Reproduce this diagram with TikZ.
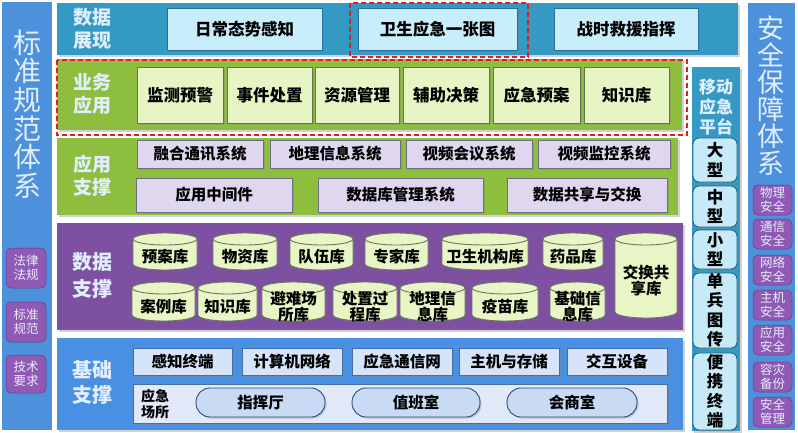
\documentclass[tikz,border=0pt]{standalone}
\usepackage{fontspec}
\setmainfont{Noto Sans CJK SC}
\usetikzlibrary{shadows}
\definecolor{sideblue}{RGB}{77,145,220}
\definecolor{cteal}{RGB}{52,154,196}
\definecolor{cgreen}{RGB}{141,190,61}
\definecolor{cpurple}{RGB}{125,80,162}
\definecolor{cbase}{RGB}{74,144,226}
\definecolor{labcol}{RGB}{225,238,255}
\definecolor{lbfill}{RGB}{201,238,251}
\definecolor{lbline}{RGB}{44,110,154}
\definecolor{lgfill}{RGB}{230,245,195}
\definecolor{lgline}{RGB}{100,115,80}
\definecolor{lvfill}{RGB}{223,215,240}
\definecolor{lvline}{RGB}{110,110,130}
\definecolor{cyfill}{RGB}{232,245,196}
\definecolor{cyline}{RGB}{110,115,100}
\definecolor{bbfill}{RGB}{213,228,250}
\definecolor{bbline}{RGB}{70,110,160}
\definecolor{bcfill}{RGB}{226,234,250}
\definecolor{stfill}{RGB}{201,218,245}
\definecolor{stline}{RGB}{42,74,128}
\definecolor{spurple}{RGB}{142,90,180}
\definecolor{mbfill}{RGB}{198,234,248}
\definecolor{mbline}{RGB}{40,100,130}
\definecolor{cred}{RGB}{225,30,30}
\newcommand\mkbox[7]{%
 \node[#1, minimum width={(#5)-(#3)}, minimum height={(#6)-(#4)}] (#2) at ({((#3)+(#5))/2},{((#4)+(#6))/2}) {#7};}
\newcommand\mkcyl[6]{%
 \filldraw[cylbody] ({#2},{(#3)+6}) -- ({#2},{(#5)-6}) arc[start angle=180,end angle=360,x radius={((#4)-(#2))/2*1pt},y radius=6pt] -- ({#4},{(#3)+6}) arc[start angle=0,end angle=180,x radius={((#4)-(#2))/2*1pt},y radius=6pt] -- cycle;
 \draw[cylbody,fill=none] ({#2},{(#3)+6}) arc[start angle=180,end angle=360,x radius={((#4)-(#2))/2*1pt},y radius=6pt];
 \node[cyltext] (#1) at ({((#2)+(#4))/2},{((#3)+(#5))/2+5}) {#6};}
\begin{document}
\begin{tikzpicture}[x=1pt,y=-1pt,
  shadowed/.style={drop shadow={opacity=0.35,shadow xshift=1.5pt,shadow yshift=-1.5pt}},
  boxbase/.style={rectangle,inner sep=0pt,outer sep=0pt,line width=0.9pt,align=center,text=black,shadowed,
     font=\bfseries\fontsize{15.5}{17}\selectfont},
  topbox/.style={boxbase,draw=lbline,fill=lbfill,font=\bfseries\fontsize{16.5}{18}\selectfont},
  appbox/.style={boxbase,draw=lgline,fill=lgfill,font=\bfseries\fontsize{16.5}{18}\selectfont},
  supbox/.style={boxbase,draw=lvline,fill=lvfill},
  basebox/.style={boxbase,draw=bbline,fill=bbfill},
  placebox/.style={rectangle,inner sep=0pt,outer sep=0pt,draw=bbline,line width=0.9pt,fill=bcfill,shadowed},
  stadium/.style={boxbase,draw=stline,fill=stfill,rounded corners=14pt},
  cylbody/.style={draw=cyline,fill=cyfill,line width=0.9pt},
  cyltext/.style={inner sep=0pt,align=center,font=\bfseries\fontsize{15.5}{16.5}\selectfont},
  blabel/.style={inner sep=0pt,align=center,text=labcol,font=\bfseries\fontsize{19}{23}\selectfont},
  sidebox/.style={rectangle,inner sep=0pt,outer sep=0pt,rounded corners=5pt,fill=spurple,draw=spurple!70!black,line width=0.5pt,
     align=center,text=white!92!blue,font=\fontsize{12.5}{14}\selectfont},
  mobbox/.style={boxbase,draw=mbline,fill=mbfill,rounded corners=6pt,font=\bfseries\fontsize{16.5}{19.5}\selectfont},
  bigtext/.style={inner sep=0pt,align=center,text=labcol},
  reddash/.style={draw=cred,line width=1.5pt,dash pattern=on 5pt off 3pt}
]
\useasboundingbox (0,0) rectangle (798,432);
\fill[white] (0,0) rectangle (798,432);

% side columns
\fill[sideblue] (2,2) rectangle (52,430);
\node[bigtext,font=\fontsize{28}{28.6}\selectfont] (leftTitle) at (27,114) {标\\准\\规\\范\\体\\系};
\mkbox{sidebox}{l1}{6}{248}{46}{288}{法律\\法规}
\mkbox{sidebox}{l2}{6}{302}{46}{342}{标准\\规范}
\mkbox{sidebox}{l3}{6}{355}{46}{393}{技术\\要求}

\fill[sideblue] (748,3) rectangle (795,430);
\node[bigtext,font=\fontsize{27}{27}\selectfont] (rightTitle) at (771,96) {安\\全\\保\\障\\体\\系};
\mkbox{sidebox}{r1}{753}{185}{792}{215}{物理\\安全}
\mkbox{sidebox}{r2}{753}{219}{792}{249}{通信\\安全}
\mkbox{sidebox}{r3}{753}{255}{792}{285}{网络\\安全}
\mkbox{sidebox}{r4}{753}{290}{792}{320}{主机\\安全}
\mkbox{sidebox}{r5}{753}{325}{792}{355}{应用\\安全}
\mkbox{sidebox}{r6}{753}{362}{792}{392}{容灾\\备份}
\mkbox{sidebox}{r7}{753}{397}{792}{427}{安全\\管理}

% bands
\fill[cteal,shadowed] (57,3) rectangle (738,55);
\fill[cgreen,shadowed] (57,59) rectangle (682,130);
\fill[cgreen,shadowed] (57,138) rectangle (678,215);
\fill[cpurple,shadowed] (57,223) rectangle (683,330);
\fill[cbase,shadowed] (57,338) rectangle (683,430);
\fill[cteal,shadowed] (692,67) rectangle (740,431);

% band labels
\node[blabel] (lab1) at (92,29) {数据\\展现};
\node[blabel] (lab2) at (92,94) {业务\\应用};
\node[blabel] (lab3) at (92,176) {应用\\支撑};
\node[blabel,font=\bfseries\fontsize{20}{27}\selectfont] (lab4) at (92,275) {数据\\支撑};
\node[blabel,font=\bfseries\fontsize{20}{25}\selectfont] (lab5) at (92,382) {基础\\支撑};

% row 1
\mkbox{topbox}{t1}{167}{8}{322}{50}{日常态势感知}
\mkbox{topbox}{t2}{358}{8}{517}{50}{卫生应急一张图}
\mkbox{topbox}{t3}{554}{8}{698}{50}{战时救援指挥}

% row 2
\mkbox{appbox}{a1}{137}{67}{223}{123}{监测预警}
\mkbox{appbox}{a2}{227}{67}{312}{123}{事件处置}
\mkbox{appbox}{a3}{315}{67}{399}{123}{资源管理}
\mkbox{appbox}{a4}{403}{67}{489}{123}{辅助决策}
\mkbox{appbox}{a5}{493}{67}{580}{123}{应急预案}
\mkbox{appbox}{a6}{584}{67}{669}{123}{知识库}

% row 3
\mkbox{supbox}{s1}{137}{140}{263}{168}{融合通讯系统}
\mkbox{supbox}{s2}{270}{140}{400}{168}{地理信息系统}
\mkbox{supbox}{s3}{406}{140}{532}{168}{视频会议系统}
\mkbox{supbox}{s4}{538}{140}{670}{168}{视频监控系统}
\mkbox{supbox}{s5}{136}{178}{292}{212}{应用中间件}
\mkbox{supbox}{s6}{318}{178}{483}{212}{数据库管理系统}
\mkbox{supbox}{s7}{507}{178}{667}{212}{数据共享与交换}

% row 4 cylinders
\mkcyl{d1}{133}{233}{197}{270}{预案库}
\mkcyl{d2}{213}{233}{277}{270}{物资库}
\mkcyl{d3}{290}{233}{353}{270}{队伍库}
\mkcyl{d4}{365}{233}{428}{270}{专家库}
\mkcyl{d5}{442}{233}{528}{270}{卫生机构库}
\mkcyl{d6}{543}{233}{603}{270}{药品库}
\mkcyl{d7}{615}{233}{677}{318}{交换共\\享库}
\mkcyl{e1}{132}{282}{195}{321}{案例库}
\mkcyl{e2}{198}{282}{257}{321}{知识库}
\mkcyl{e3}{262}{282}{325}{321}{避难场\\所库}
\mkcyl{e4}{333}{282}{397}{321}{处置过\\程库}
\mkcyl{e5}{400}{282}{465}{321}{地理信\\息库}
\mkcyl{e6}{472}{282}{538}{321}{疫苗库}
\mkcyl{e7}{550}{282}{605}{321}{基础信\\息库}

% row 5
\mkbox{basebox}{b1}{133}{348}{232}{375}{感知终端}
\mkbox{basebox}{b2}{242}{348}{342}{375}{计算机网络}
\mkbox{basebox}{b3}{352}{348}{452}{375}{应急通信网}
\mkbox{basebox}{b4}{459}{348}{559}{375}{主机与存储}
\mkbox{basebox}{b5}{567}{348}{667}{375}{交互设备}
\mkbox{placebox}{place}{133}{384}{667}{423}{}
\node[inner sep=0pt,align=center,font=\bfseries\fontsize{14}{16}\selectfont] (placeLab) at (155,404) {应急\\场所};
\mkbox{stadium}{p1}{196}{388}{325}{417}{指挥厅}
\mkbox{stadium}{p2}{352}{388}{480}{417}{值班室}
\mkbox{stadium}{p3}{507}{388}{637}{417}{会商室}

% mobile platform
\node[blabel,font=\bfseries\fontsize{17}{20}\selectfont] (mobLab) at (716,107) {移动\\应急\\平台};
\mkbox{mobbox}{m1}{693}{138}{737}{182}{大\\型}
\mkbox{mobbox}{m2}{693}{186}{737}{227}{中\\型}
\mkbox{mobbox}{m3}{693}{230}{737}{269}{小\\型}
\mkbox{mobbox}{m4}{693}{273}{737}{348}{单\\兵\\图\\传}
\mkbox{mobbox}{m5}{693}{353}{737}{430}{便\\携\\终\\端}

% red dashed highlights
\draw[reddash] (350,3) rectangle (528,57);
\draw[reddash] (57,60) rectangle (687,135);
\end{tikzpicture}
\end{document}
